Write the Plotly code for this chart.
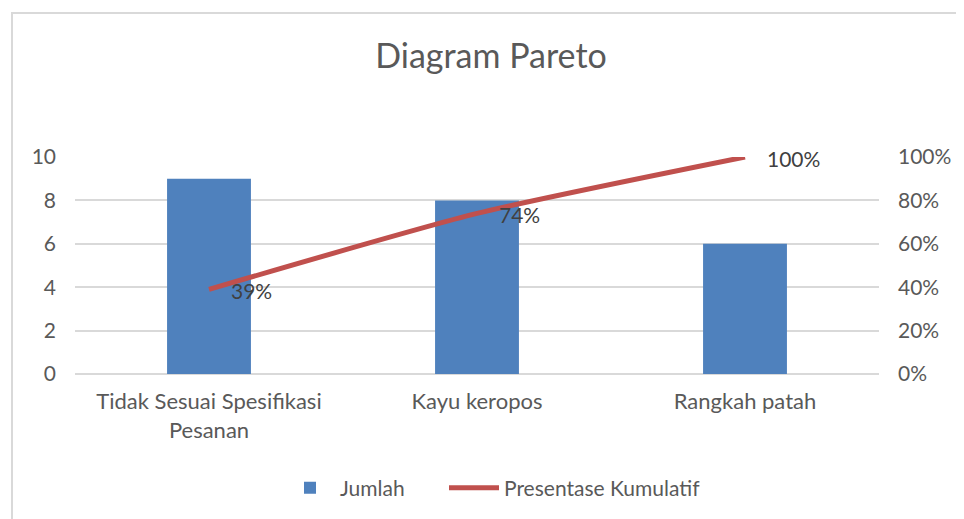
import plotly.graph_objects as go

categories = ["Tidak Sesuai Spesifikasi<br>Pesanan", "Kayu keropos", "Rangkah patah"]
jumlah = [9, 8, 6]
kumulatif = [0.39, 0.74, 1.00]
kumulatif_labels = ["39%", "74%", "100%"]

FONT = "Lato"
GRAY = "#595959"

# page body has an 8px offset; plot area target (page px): x 75..879, y 157..374
L, T = 67, 149
W_PLOT, H_PLOT = 804, 217
R = 964 - L - W_PLOT
B = 519 - T - H_PLOT

fig = go.Figure()
fig.add_trace(go.Bar(x=categories, y=jumlah, name="Jumlah", marker_color="#4f81bd",
                     marker_line_width=0, legend="legend", showlegend=True))
fig.add_trace(go.Scatter(x=categories, y=kumulatif, name="Presentase Kumulatif", yaxis="y2",
                         mode="lines", line=dict(color="#c0504d", width=5, shape="spline", smoothing=0.6),
                         legend="legend2", showlegend=True))

for c, v, t in zip(categories, kumulatif, kumulatif_labels):
    fig.add_annotation(x=c, y=v, yref="y2", text=t, showarrow=False, xanchor="left",
                       xshift=20, yshift=-1, font=dict(family=FONT, size=21, color="#404040"))

leg_y = -(488 - 8 - (T + H_PLOT)) / H_PLOT
leg_common = dict(orientation="h", xanchor="left", y=leg_y, yanchor="middle",
                  font=dict(family=FONT, size=21, color=GRAY), itemwidth=50, visible=True)

fig.update_layout(
    width=964, height=519,
    showlegend=True,
    margin=dict(l=L, r=R, t=T, b=B),
    paper_bgcolor="white", plot_bgcolor="white",
    bargap=0.687,
    title=dict(text="Diagram Pareto", x=(491 - 8 - L) / W_PLOT, xref="paper", xanchor="center",
               y=1 - (56 - 8) / 519, yanchor="middle",
               font=dict(family=FONT, size=34, color=GRAY)),
    font=dict(family=FONT, size=21, color=GRAY),
    xaxis=dict(showgrid=False, showline=False, ticks="", ticklabelstandoff=12,
               tickfont=dict(size=22, color=GRAY)),
    yaxis=dict(range=[0, 10], dtick=2, showgrid=True, gridcolor="#d9d9d9", gridwidth=1.5,
               zeroline=True, zerolinecolor="#d9d9d9", zerolinewidth=1.5, showline=False,
               ticks="", ticklabelstandoff=18, tickfont=dict(size=21, color=GRAY)),
    yaxis2=dict(range=[0, 1], dtick=0.2, tickformat=".0%", overlaying="y", side="right",
                showgrid=False, zeroline=False, showline=False, ticks="", ticklabelstandoff=18,
                tickfont=dict(size=21, color=GRAY)),
    legend=dict(x=(338 - 8 - L - 58) / W_PLOT, **leg_common),
    legend2=dict(x=(502 - 8 - L - 58) / W_PLOT, **leg_common),
    shapes=[dict(type="rect", xref="paper", yref="paper",
                 x0=(12 - 8 - L) / W_PLOT, x1=(1000 - L) / W_PLOT,
                 y0=-(600 - (T + H_PLOT)) / H_PLOT, y1=(T + H_PLOT - (13 - 8)) / H_PLOT,
                 line=dict(color="#d9d9d9", width=2), fillcolor="rgba(0,0,0,0)", layer="below")],
)

fig.write_html("out.html")
